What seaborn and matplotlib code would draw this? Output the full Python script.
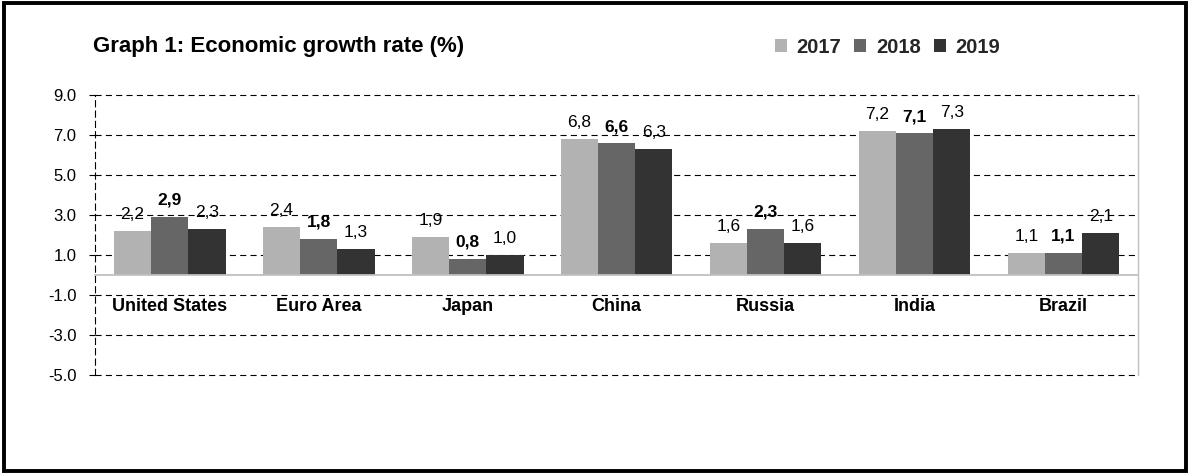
import numpy as np
import pandas as pd
import matplotlib
matplotlib.use("Agg")
import matplotlib.pyplot as plt
from matplotlib.patches import Rectangle
import seaborn as sns

# Economic growth rate by region, percent
regions = ["United States", "Euro Area", "Japan", "China", "Russia", "India", "Brazil"]
years = ["2017", "2018", "2019"]
growth_2017 = [2.2, 2.4, 1.9, 6.8, 1.6, 7.2, 1.1]
growth_2018 = [2.9, 1.8, 0.8, 6.6, 2.3, 7.1, 1.1]
growth_2019 = [2.3, 1.3, 1.0, 6.3, 1.6, 7.3, 2.1]
y_ticks = [-5, -3, -1, 1, 3, 5, 7, 9]

year_colors = ["#b2b2b2", "#666666", "#333333"]

df = pd.DataFrame({
    "region": regions * 3,
    "year": [y for y in years for _ in regions],
    "growth": growth_2017 + growth_2018 + growth_2019,
})

sns.set_theme(style="white")
plt.rcParams["font.family"] = ["Liberation Sans", "DejaVu Sans"]

fig = plt.figure(figsize=(11.88, 4.73), dpi=100)
ax = fig.add_axes([0.0802, 0.2082, 0.8777, 0.5903])

sns.barplot(data=df, x="region", y="growth", hue="year", order=regions,
            hue_order=years, palette=year_colors, width=0.75, gap=0,
            saturation=1, ax=ax, linewidth=0, errorbar=None)

ax.set_ylim(-5, 9)
ax.set_xlim(-0.5, len(regions) - 0.5)
ax.set_yticks(y_ticks)
ax.set_yticklabels([f"{t:.1f}" for t in y_ticks], fontsize=12, color="black")
ax.set_xlabel("")
ax.set_ylabel("")

# dashed horizontal grid
ax.yaxis.grid(True, color="black", linewidth=0.8, linestyle=(0, (5.5, 3.8)))
ax.xaxis.grid(False)
ax.set_axisbelow(True)
for gl in ax.get_ygridlines():
    gl.set_clip_on(False)

# axis frame: zero line with category separators, dashed left edge
ax.spines["top"].set_visible(False)
ax.spines["bottom"].set_position(("data", 0))
ax.spines["bottom"].set_color("#c0c0c0")
ax.spines["bottom"].set_linewidth(1.3)
ax.spines["right"].set_color("#c0c0c0")
ax.spines["right"].set_linewidth(1.0)
ax.spines["left"].set_color("black")
ax.spines["left"].set_linewidth(0.8)
ax.spines["left"].set_linestyle((0, (5.5, 3.8)))

ax.set_xticks(range(len(regions)))
ax.set_xticklabels([])
ax.set_xticks(np.arange(0.5, len(regions) - 1, 1.0), minor=True)
ax.tick_params(axis="x", which="major", length=0)
ax.tick_params(axis="x", which="minor", length=8, width=1.0, color="#c0c0c0",
               direction="out")
ax.tick_params(axis="y", which="major", length=4.5, width=0.8, color="black",
               direction="out", pad=9, left=True)

for i, name in enumerate(regions):
    ax.text(i, -1.84, name, ha="center", va="baseline", fontsize=13,
            fontweight="bold", color="black")

# value labels, decimal comma; 2018 in bold
for container, year in zip(ax.containers, years):
    vals = [bar.get_height() for bar in container]
    labels = [f"{v:.1f}".replace(".", ",") for v in vals]
    ax.bar_label(container, labels=labels, padding=6.5, fontsize=12.5,
                 fontweight="bold" if year == "2018" else "normal",
                 color="black")

# legend across the top
sns.move_legend(ax, "center", bbox_to_anchor=(0.747, 0.8998),
                bbox_transform=fig.transFigure, ncol=3, frameon=False,
                title=None, fontsize=14.5, handlelength=0.6,
                handleheight=0.6, handletextpad=0.47, columnspacing=0.65)
for txt in ax.get_legend().get_texts():
    txt.set_fontweight("bold")

fig.text(0.078, 0.8907, "Graph 1: Economic growth rate (%)", fontsize=16,
         fontweight="bold", va="baseline", ha="left", color="black")

# outer frame
fig.patches.append(Rectangle((3.5 / 1188, 1.8 / 473), 1182.5 / 1188, 468 / 473,
                             transform=fig.transFigure, fill=False,
                             edgecolor="black", linewidth=2.8))

fig.savefig("out.png", dpi=100, facecolor="white")
